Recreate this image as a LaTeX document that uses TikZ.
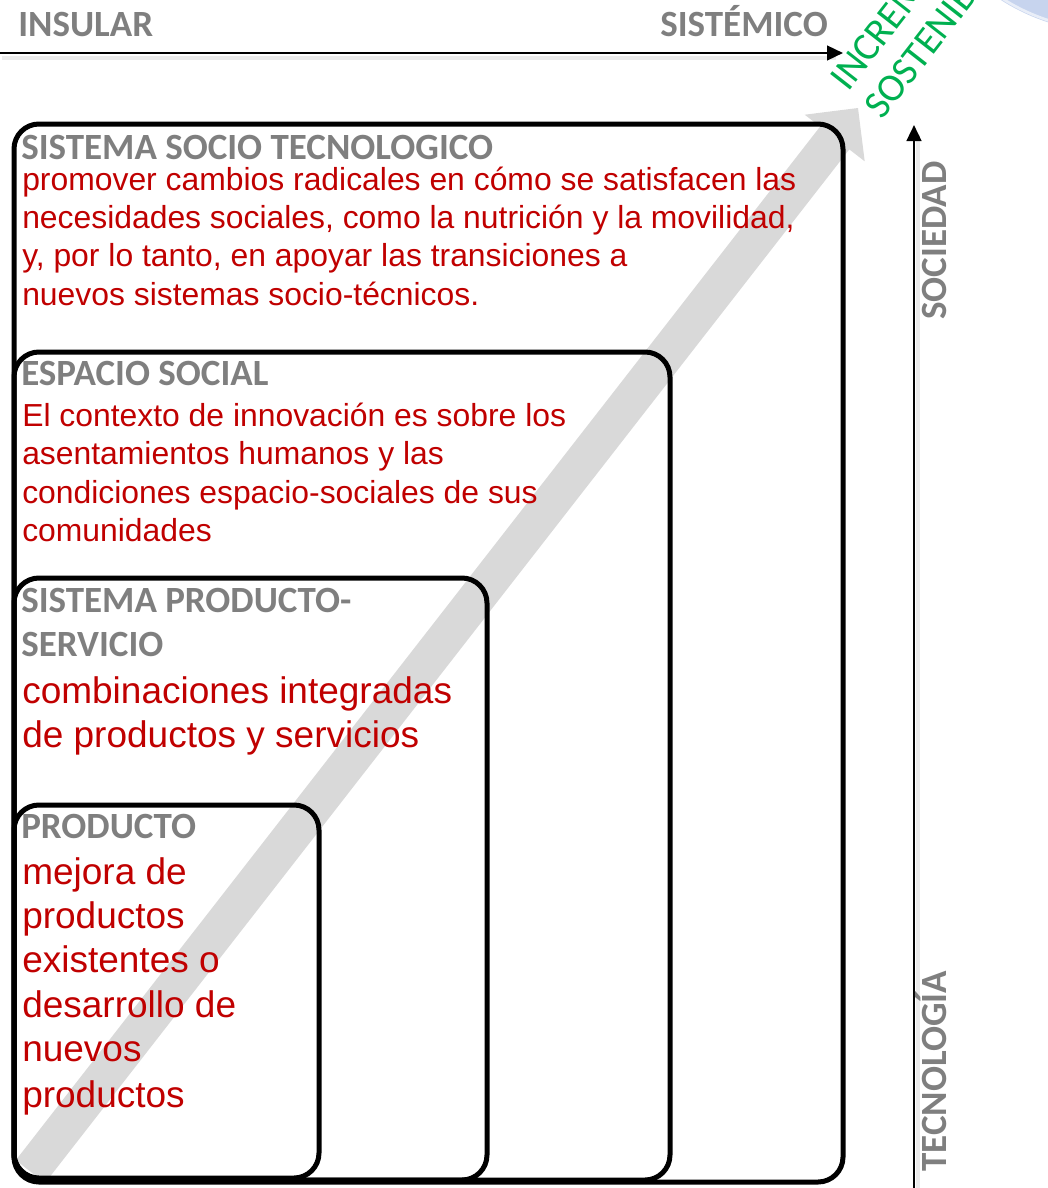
\documentclass[tikz,border=0pt]{standalone}
\usepackage{fontspec}
\setmainfont{Liberation Sans}
\newfontfamily\calib{Carlito}
\usetikzlibrary{arrows.meta}
\definecolor{tgray}{HTML}{7F7F7F}
\definecolor{tred}{HTML}{C00000}
\definecolor{tgreen}{HTML}{00B050}
\definecolor{band}{HTML}{D9D9D9}
\definecolor{lblue}{HTML}{C7D4EE}
\begin{document}
\begin{tikzpicture}[x=0.75pt,y=-0.75pt,
  title/.style={font=\calib\bfseries\fontsize{27.75}{33}\selectfont, text=tgray, anchor=base west, inner sep=0},
  body/.style={font=\fontsize{23.9}{28}\selectfont, text=tred, anchor=base west, inner sep=0},
  bodyl/.style={font=\fontsize{27.75}{33}\selectfont, text=tred, anchor=base west, inner sep=0},
  green/.style={font=\calib\fontsize{29.5}{33}\selectfont, text=tgreen, anchor=base west, inner sep=0, rotate=52},
  frame/.style={draw=black, line width=3.75pt, rounded corners=18.75pt},
  axis/.style={draw=black, line width=1.8pt, -{Triangle[length=12pt,width=11pt]}},
  shadow/.style={draw=black!8, line width=3pt}]
\useasboundingbox (0,0) rectangle (1048,1188);
\clip (0,0) rectangle (1048,1188);
% light blue decoration
\fill[lblue] (1110,-170) circle (202);
\draw[lblue!40, line width=2pt] (1110,-170) circle (200);
% gray growth arrow
\fill[band] (15.8,1160.2) -- (820.1,126.6) -- (804.7,114.7) -- (858,108) -- (864.7,161.3) -- (849.3,149.4) -- (45,1183) -- cycle;
% frames
\draw[frame] (14,124) rectangle (843,1182);
\draw[frame] (14,352) rectangle (670,1180);
\draw[frame] (14,578) rectangle (487,1180);
\draw[frame] (14,805) rectangle (319,1178);
% box 1
\node[title] (t1) at (21,159) {SISTEMA SOCIO TECNOLOGICO};
\node[body] (b11) at (22,190) {promover cambios radicales en cómo se satisfacen las};
\node[body] (b12) at (22,228) {necesidades sociales, como la nutrición y la movilidad,};
\node[body] (b13) at (22,266) {y, por lo tanto, en apoyar las transiciones a};
\node[body] (b14) at (22,305) {nuevos sistemas socio-técnicos.};
% box 2
\node[title] (t2) at (21,385) {ESPACIO SOCIAL};
\node[body] (b21) at (22,426) {El contexto de innovación es sobre los};
\node[body] (b22) at (22,464) {asentamientos humanos y las};
\node[body] (b23) at (22,503) {condiciones espacio-sociales de sus};
\node[body] (b24) at (22,541) {comunidades};
% box 3
\node[title] (t3a) at (21,612) {SISTEMA PRODUCTO-};
\node[title] (t3b) at (21,656) {SERVICIO};
\node[bodyl] (b31) at (22,703) {combinaciones integradas};
\node[bodyl] (b32) at (22,747) {de productos y servicios};
% box 4
\node[title] (t4) at (21,838) {PRODUCTO};
\node[bodyl] (b41) at (22,884) {mejora de};
\node[bodyl] (b42) at (22,928) {productos};
\node[bodyl] (b43) at (22,972) {existentes o};
\node[bodyl] (b44) at (22,1017) {desarrollo de};
\node[bodyl] (b45) at (22,1061) {nuevos};
\node[bodyl] (b46) at (22,1107) {productos};
% horizontal axis
\coordinate (hs) at (0,53);
\coordinate (he) at (843,53);
\draw[shadow] (2,58) -- (836,58);
\draw[axis] (hs) -- (he);
\node[title] (ins) at (18,37) {INSULAR};
\node[title, anchor=base east] (sis) at (828,37) {SISTÉMICO};
% vertical axis
\coordinate (vs) at (914,1192);
\coordinate (ve) at (914,125);
\draw[shadow] (918,1192) -- (918,135);
\draw[axis] (vs) -- (ve);
\node[title, rotate=90] (soc) at (946,320) {SOCIEDAD};
\node[title, rotate=90] (tec) at (946,1172) {TECNOLOGÍA};
% green label
\node[green] (g1) at (848,93) {INCREMENTO};
\node[green] (g2) at (882,121) {SOSTENIBILIDAD};
\end{tikzpicture}
\end{document}
